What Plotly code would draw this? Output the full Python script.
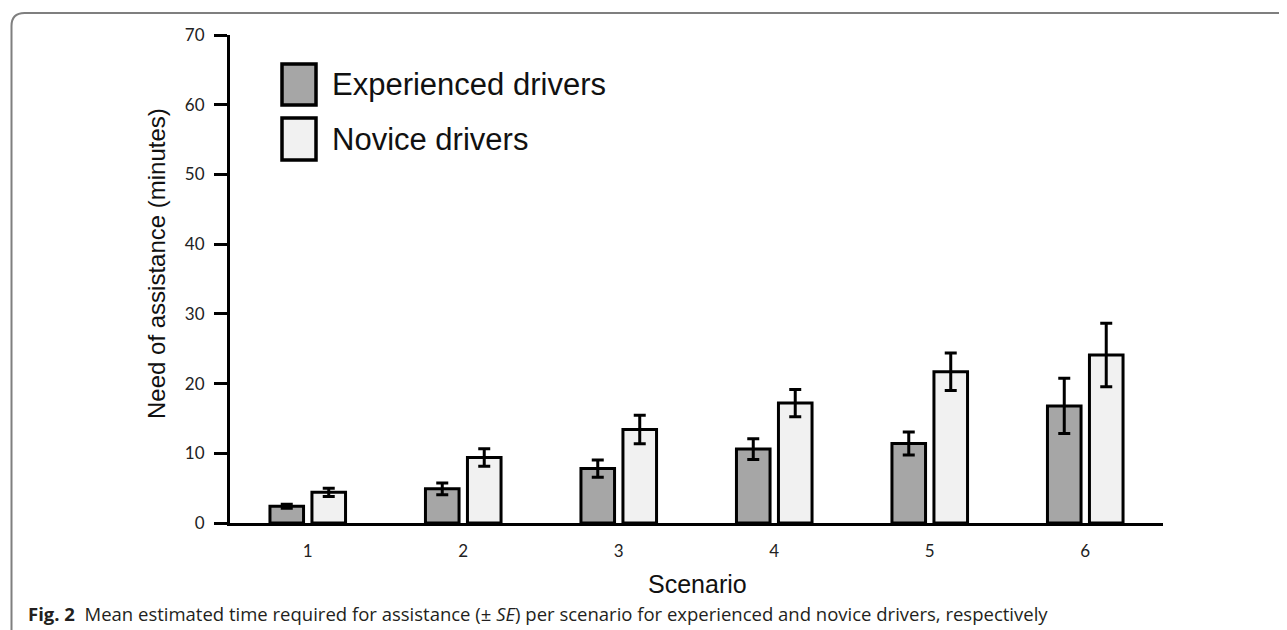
import plotly.graph_objects as go

# ---- data ----
scenarios = ["1", "2", "3", "4", "5", "6"]
experienced = [2.4, 4.9, 7.8, 10.6, 11.4, 16.8]
experienced_se = [0.3, 0.85, 1.25, 1.5, 1.65, 3.95]
novice = [4.4, 9.4, 13.4, 17.2, 21.7, 24.1]
novice_se = [0.6, 1.25, 2.05, 1.95, 2.7, 4.55]
y_tick_values = [0, 10, 20, 30, 40, 50, 60, 70]
series_names = ["Experienced drivers", "Novice drivers"]
caption = ("<b>Fig. 2</b>  Mean estimated time required for assistance (± <i>SE</i>) "
           "per scenario for experienced and novice drivers, respectively")

# ---- layout geometry (screen pixels; page body has an 8px margin) ----
OFF = 8
SW, SH = 1287, 630
FW, FH = SW - OFF, SH - OFF
L, R, T, B = 230, 1163, 35, 523          # plot area on screen
PW, PH = R - L, B - T


def px(x):
    return (x - L) / PW


def py(y):
    return (B - y) / PH


EXP_COLOR = "#a6a6a6"
NOV_COLOR = "#f1f1f1"

fig = go.Figure()
fig.add_trace(go.Bar(
    x=scenarios, y=experienced, name=series_names[0],
    marker=dict(color=EXP_COLOR, line=dict(color="black", width=3)),
    error_y=dict(type="data", array=experienced_se, visible=True,
                 color="black", thickness=3, width=6),
))
fig.add_trace(go.Bar(
    x=scenarios, y=novice, name=series_names[1],
    marker=dict(color=NOV_COLOR, line=dict(color="black", width=3)),
    error_y=dict(type="data", array=novice_se, visible=True,
                 color="black", thickness=3, width=6),
))

shapes = []
# rounded gray frame (top-left corner visible)
fx, fy, rad = 11.5, 13, 13
shapes.append(dict(
    type="path", xref="paper", yref="paper",
    path=(f"M {px(fx)},{py(SH + 20)} L {px(fx)},{py(fy + rad)} "
          f"Q {px(fx)},{py(fy)} {px(fx + rad)},{py(fy)} L {px(SW + 20)},{py(fy)}"),
    line=dict(color="#7f7f7f", width=2),
))
# legend boxes
for (y0, y1), col in zip([(64, 105), (118, 160)], [EXP_COLOR, NOV_COLOR]):
    shapes.append(dict(type="rect", xref="paper", yref="paper",
                       x0=px(282), x1=px(316), y0=py(y1), y1=py(y0),
                       fillcolor=col, line=dict(color="black", width=3.5)))

annotations = []
for name, yc in zip(series_names, [85, 139]):
    annotations.append(dict(text=name, xref="paper", yref="paper",
                            x=px(330), y=py(yc), xanchor="left", yanchor="middle",
                            showarrow=False,
                            font=dict(family="Liberation Sans, Arial", size=31, color="#111")))
annotations.append(dict(text="Need of assistance (minutes)", xref="paper", yref="paper",
                        x=px(156), y=py(264), textangle=-90, xanchor="center",
                        yanchor="middle", showarrow=False,
                        font=dict(family="Liberation Sans, Arial", size=24, color="#111")))
annotations.append(dict(text="Scenario", xref="paper", yref="paper",
                        x=px(697), y=py(584), xanchor="center", yanchor="middle",
                        showarrow=False,
                        font=dict(family="Liberation Sans, Arial", size=25, color="#111")))
annotations.append(dict(text=caption, xref="paper", yref="paper",
                        x=px(26), y=py(613), xanchor="left", yanchor="middle",
                        showarrow=False,
                        font=dict(family="Open Sans", size=18.5, color="#231f20")))

fig.update_layout(
    width=FW, height=FH,
    margin=dict(l=L - OFF, r=FW - (R - OFF), t=T - OFF, b=FH - (B - OFF), pad=0),
    paper_bgcolor="white", plot_bgcolor="white",
    barmode="group", bargap=0.46, bargroupgap=0.2,
    showlegend=False,
    shapes=shapes, annotations=annotations,
)
fig.update_xaxes(
    type="category", range=[-0.5, 5.5], showline=True, linecolor="black",
    linewidth=3, ticks="", showgrid=False, zeroline=False,
    tickfont=dict(family="Lato", size=17, color="#222"), ticklabelstandoff=11,
)
fig.update_yaxes(
    range=[0, 70], tickvals=y_tick_values, showline=True, linecolor="black",
    linewidth=3, ticks="outside", ticklen=13, tickwidth=3, tickcolor="black",
    showgrid=False, zeroline=False,
    tickfont=dict(family="Lato", size=17, color="#222"), ticklabelstandoff=6,
)

fig.write_html("out.html")
